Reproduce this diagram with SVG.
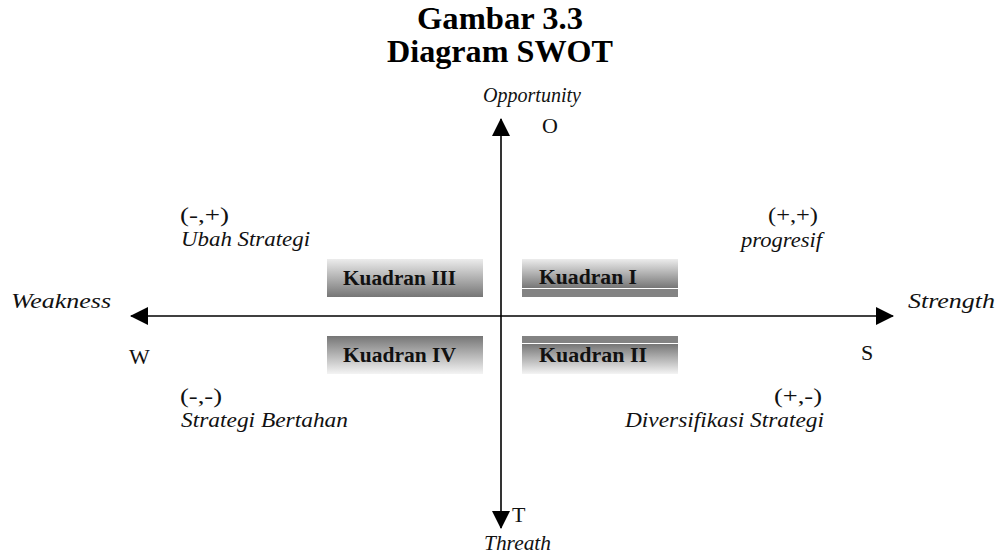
<svg xmlns="http://www.w3.org/2000/svg" width="1000" height="554" viewBox="0 0 1000 554">
<defs>
<style>
.title{font-family:"Liberation Serif",serif;font-weight:bold;font-size:32px;fill:#000;text-anchor:middle}
.axis{font-family:"Liberation Serif",serif;font-style:italic;font-size:22px;fill:#111}
.letter{font-family:"Liberation Serif",serif;font-size:22px;fill:#111}
.sign{font-family:"Liberation Serif",serif;font-size:21px;fill:#111}
.strat{font-family:"Liberation Serif",serif;font-style:italic;font-size:22px;fill:#111}
.kq{font-family:"Liberation Serif",serif;font-weight:bold;font-size:20px;fill:#111}
.line{stroke:#000;stroke-width:1.6;fill:none}
</style>
<linearGradient id="gDown" x1="0" y1="0" x2="0" y2="1">
<stop offset="0" stop-color="#ececec"/>
<stop offset="1" stop-color="#767676"/>
</linearGradient>
<linearGradient id="gUp" x1="0" y1="0" x2="0" y2="1">
<stop offset="0" stop-color="#767676"/>
<stop offset="1" stop-color="#f4f4f4"/>
</linearGradient>
<marker id="ah" viewBox="0 0 18 18" refX="17" refY="9" markerWidth="18" markerHeight="18" markerUnits="userSpaceOnUse" orient="auto">
<path d="M0,0 L18,9 L0,18 Z" fill="#000"/>
</marker>
</defs>

<g id="title">
<text class="title" x="500" y="29" textLength="166" lengthAdjust="spacingAndGlyphs">Gambar 3.3</text>
<text class="title" x="500" y="62" textLength="226" lengthAdjust="spacingAndGlyphs">Diagram SWOT</text>
</g>

<g id="connectors">
<line class="line" x1="501" y1="316" x2="501" y2="119" marker-end="url(#ah)"/>
<line class="line" x1="501" y1="316" x2="501" y2="528" marker-end="url(#ah)"/>
<line class="line" x1="501" y1="316" x2="131" y2="316" marker-end="url(#ah)"/>
<line class="line" x1="501" y1="316" x2="893" y2="316" marker-end="url(#ah)"/>
</g>

<g id="axis-labels">
<text class="axis" x="483" y="102" textLength="98" lengthAdjust="spacingAndGlyphs">Opportunity</text>
<text class="letter" x="542" y="133">O</text>
<text class="axis" x="11" y="308" textLength="100" lengthAdjust="spacingAndGlyphs">Weakness</text>
<text class="letter" x="129" y="364">W</text>
<text class="axis" x="908" y="308" textLength="87" lengthAdjust="spacingAndGlyphs">Strength</text>
<text class="letter" x="861" y="360">S</text>
<text class="letter" x="512" y="522">T</text>
<text class="axis" x="484" y="550" textLength="67" lengthAdjust="spacingAndGlyphs">Threath</text>
</g>

<g id="q3-label">
<text class="sign" x="180" y="222" textLength="49" lengthAdjust="spacingAndGlyphs">(-,+)</text>
<text class="strat" x="181" y="246" textLength="129" lengthAdjust="spacingAndGlyphs">Ubah Strategi</text>
</g>
<g id="q1-label">
<text class="sign" x="768" y="222" textLength="50" lengthAdjust="spacingAndGlyphs">(+,+)</text>
<text class="strat" x="741" y="247" textLength="81" lengthAdjust="spacingAndGlyphs">progresif</text>
</g>
<g id="q4-label">
<text class="sign" x="180" y="403" textLength="42" lengthAdjust="spacingAndGlyphs">(-,-)</text>
<text class="strat" x="181" y="427" textLength="167" lengthAdjust="spacingAndGlyphs">Strategi Bertahan</text>
</g>
<g id="q2-label">
<text class="sign" x="774" y="403" textLength="48" lengthAdjust="spacingAndGlyphs">(+,-)</text>
<text class="strat" x="625" y="427" textLength="199" lengthAdjust="spacingAndGlyphs">Diversifikasi Strategi</text>
</g>

<g id="kuadran-3">
<rect x="327" y="259" width="156" height="38" fill="url(#gDown)"/>
<text class="kq" x="343" y="285" textLength="113" lengthAdjust="spacingAndGlyphs">Kuadran III</text>
</g>
<g id="kuadran-1">
<rect x="522" y="259" width="156" height="29" fill="url(#gDown)"/>
<rect x="522" y="289" width="156" height="8" fill="#838383"/>
<text class="kq" x="539" y="284" textLength="98" lengthAdjust="spacingAndGlyphs">Kuadran I</text>
</g>
<g id="kuadran-4">
<rect x="327" y="336" width="156" height="38" fill="url(#gUp)"/>
<text class="kq" x="343" y="362" textLength="113" lengthAdjust="spacingAndGlyphs">Kuadran IV</text>
</g>
<g id="kuadran-2">
<rect x="522" y="336" width="156" height="7" fill="#838383"/>
<rect x="522" y="344" width="156" height="30" fill="url(#gUp)"/>
<text class="kq" x="539" y="362" textLength="108" lengthAdjust="spacingAndGlyphs">Kuadran II</text>
</g>
</svg>
